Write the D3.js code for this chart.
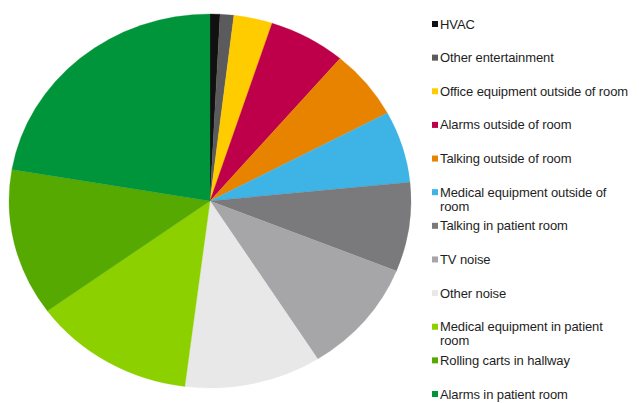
<!DOCTYPE html>
<html>
<head>
<meta charset="utf-8">
<script src="https://cdn.jsdelivr.net/npm/d3@7"></script>
<style>
  html, body { margin: 0; padding: 0; background: #ffffff; }
  svg { display: block; }
</style>
</head>
<body>
<svg id="chart" width="639" height="403"></svg>
<script>
const categories = [
  "HVAC",
  "Other entertainment",
  "Office equipment outside of room",
  "Alarms outside of room",
  "Talking outside of room",
  "Medical equipment outside of room",
  "Talking in patient room",
  "TV noise",
  "Other noise",
  "Medical equipment in patient room",
  "Rolling carts in hallway",
  "Alarms in patient room"
];
const values = [0.8, 1.1, 3.1, 6.2, 6.0, 6.2, 7.7, 9.9, 11.0, 13.0, 12.7, 22.3];
const colors = [
  "#111111", "#5b5b5e", "#ffcc00", "#bd0049", "#e88300", "#3db3e6",
  "#7a7a7c", "#a6a6a9", "#e8e8e8", "#8dd000", "#55a900", "#00953a"
];
const legendLines = [
  ["HVAC"],
  ["Other entertainment"],
  ["Office equipment outside of room"],
  ["Alarms outside of room"],
  ["Talking outside of room"],
  ["Medical equipment outside of", "room"],
  ["Talking in patient room"],
  ["TV noise"],
  ["Other noise"],
  ["Medical equipment in patient", "room"],
  ["Rolling carts in hallway"],
  ["Alarms in patient room"]
];

const svg = d3.select("#chart");
const cx = 210, cy = 201, rx = 201, ry = 187;

const data = categories.map((c, i) => ({ name: c, value: values[i], color: colors[i] }));
const pie = d3.pie().value(d => d.value).sort(null);
const arc = d3.arc().innerRadius(0).outerRadius(ry);

const g = svg.append("g")
  .attr("transform", `translate(${cx},${cy}) scale(${rx / ry},1)`);

g.selectAll("path")
  .data(pie(data))
  .join("path")
  .attr("d", arc)
  .attr("fill", d => d.data.color)
  .attr("stroke", d => d.data.color)
  .attr("stroke-width", 0.3);

// Legend
const ly = d3.scalePoint().domain(categories).range([24, 394]);
const legend = svg.append("g").attr("font-family", "'Liberation Sans', Arial, sans-serif")
  .attr("font-size", 13).attr("fill", "#1e1e1e");

categories.forEach((c, i) => {
  const y = ly(c);
  legend.append("rect")
    .attr("x", 432).attr("y", y - 3)
    .attr("width", 6).attr("height", 6)
    .attr("fill", colors[i]);
  const t = legend.append("text")
    .attr("x", 440).attr("y", y)
    .attr("letter-spacing", "-0.1px");
  legendLines[i].forEach((line, j) => {
    t.append("tspan").attr("x", 440).attr("dy", j === 0 ? "0.35em" : "14px").text(line);
  });
});
</script>
</body>
</html>
